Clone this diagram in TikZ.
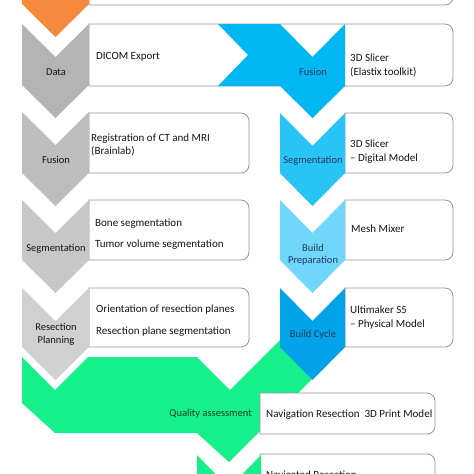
\documentclass[tikz,border=0pt]{standalone}
\usepackage{fontspec}
\setmainfont{Carlito}
\definecolor{corange}{RGB}{245,137,61}
\definecolor{cgrayA}{RGB}{180,180,180}
\definecolor{cgrayB}{RGB}{189,189,189}
\definecolor{cgrayC}{RGB}{199,199,199}
\definecolor{cgrayD}{RGB}{208,208,208}
\definecolor{cblueF}{RGB}{0,183,241}
\definecolor{cblueS}{RGB}{40,196,246}
\definecolor{cblueP}{RGB}{112,214,250}
\definecolor{cblueC}{RGB}{0,163,232}
\definecolor{cgreen}{RGB}{22,240,138}
\definecolor{cnavy}{RGB}{31,56,100}
\definecolor{cdkgreen}{RGB}{12,62,30}
\definecolor{cborder}{RGB}{150,150,150}
\definecolor{ctext}{RGB}{20,20,20}
\tikzset{
  boxline/.style={draw=cborder, fill=white, line width=0.8pt},
  boxtext/.style={anchor=base west, inner sep=0pt, text=ctext, font=\fontsize{11}{13}\selectfont},
  chevtext/.style={anchor=base, inner sep=0pt, text=ctext},
  bluetext/.style={anchor=base, inner sep=0pt, text=cnavy},
}
% chevron: #1 colour, #2 x-left, #3 top, #4 x-right, #5 bottom of body
\newcommand\mychev[5]{%
  \fill[#1] (#2,#3) -- ({(#2+#4)/2},{#3+33}) -- (#4,#3) -- (#4,#5)
    -- ({(#2+#4)/2},{#5+33}) -- (#2,#5) -- cycle;}
% box with rounded right corners: #1 x-left, #2 top, #3 x-right, #4 bottom
\newcommand\mybox[4]{%
  \path[boxline] (#1,#2) [rounded corners=8pt] -- (#3,#2) -- (#3,#4)
    [sharp corners] -- (#1,#4) -- cycle;}
\begin{document}
\begin{tikzpicture}[x=1pt,y=-1pt,font=\fontsize{10.5}{12.6}\selectfont]
\useasboundingbox (0,0) rectangle (474,474);
\clip (0,0) rectangle (474,474);
\fill[white] (0,0) rectangle (474,474);

% green quality-assessment shape (under boxes and chevrons)
\fill[cgreen] (22,357) -- (55,390) -- (88,357) -- (197,357) -- (230,390)
  -- (290,330) -- (312,352) -- (312,379) -- (229,462) -- (197,433)
  -- (55,433) -- (22,403) -- cycle;

% boxes
\mybox{89}{-60}{453}{5}
\mybox{89}{24}{453}{86}
\mybox{89}{113}{249}{173}
\mybox{345}{113}{453}{173}
\mybox{89}{200}{249}{260}
\mybox{345}{200}{453}{260}
\mybox{89}{288}{249}{347}
\mybox{345}{288}{453}{347}
\mybox{260}{393}{435}{434}
\mybox{260}{454}{435}{520}

% left column chevrons
\mychev{corange}{22}{-40}{89}{4}
\mychev{cgrayA}{22}{24}{89}{85}
\mychev{cgrayB}{22}{112}{89}{173}
\mychev{cgrayC}{22}{200}{89}{260}
\mychev{cgrayD}{22}{288}{89}{347}

% blue fusion shape
\fill[cblueF] (218,24) -- (280,24) -- (312.5,57) -- (345,24) -- (345,86)
  -- (312.5,118) -- (280,86) -- (218,86) -- (248,55) -- cycle;

% right column chevrons
\mychev{cblueS}{280}{113}{345}{173}
\mychev{cblueP}{280}{200}{345}{260}
\mychev{cblueC}{280}{288}{345}{347}

% lower green chevron
\mychev{cgreen}{197}{455}{261}{520}

% chevron labels
\node[chevtext] (lData) at (56,75) {Data};
\node[chevtext] (lFusL) at (56,163) {Fusion};
\node[chevtext] (lSegL) at (56,251) {Segmentation};
\node[chevtext] (lRes1) at (56,330) {Resection};
\node[chevtext] (lRes2) at (56,343) {Planning};
\node[bluetext] (lFusR) at (313,75) {Fusion};
\node[bluetext] (lSegR) at (313,163) {Segmentation};
\node[bluetext] (lBld1) at (313,251) {Build};
\node[bluetext] (lBld2) at (313,263) {Preparation};
\node[bluetext] (lCyc) at (313,337) {Build Cycle};
\node[anchor=base east, inner sep=0pt, text=cdkgreen] (lQual) at (252,416) {Quality assessment};

% box texts
\node[boxtext] (tDicom) at (96,59) {DICOM Export};
\node[boxtext] (tSl1) at (350,61) {3D Slicer};
\node[boxtext] (tSl2) at (350,75) {(Elastix toolkit)};
\node[boxtext] (tReg1) at (91,141) {Registration of CT and MRI};
\node[boxtext] (tReg2) at (91,154) {(Brainlab)};
\node[boxtext] (tDig1) at (350,147) {3D Slicer};
\node[boxtext] (tDig2) at (350,161) {– Digital Model};
\node[boxtext] (tBone) at (95,226) {Bone segmentation};
\node[boxtext] (tTum) at (95,247) {Tumor volume segmentation};
\node[boxtext] (tMesh) at (351,232) {Mesh Mixer};
\node[boxtext] (tOri) at (96,312) {Orientation of resection planes};
\node[boxtext] (tRps) at (96,334) {Resection plane segmentation};
\node[boxtext] (tUlt1) at (350,313) {Ultimaker S5};
\node[boxtext] (tUlt2) at (350,327) {– Physical Model};
\node[boxtext] (tNav) at (266,417) {Navigation Resection\ \ 3D Print Model};
\node[boxtext] (tNvd) at (266,478) {Navigated Resection};
\end{tikzpicture}
\end{document}
